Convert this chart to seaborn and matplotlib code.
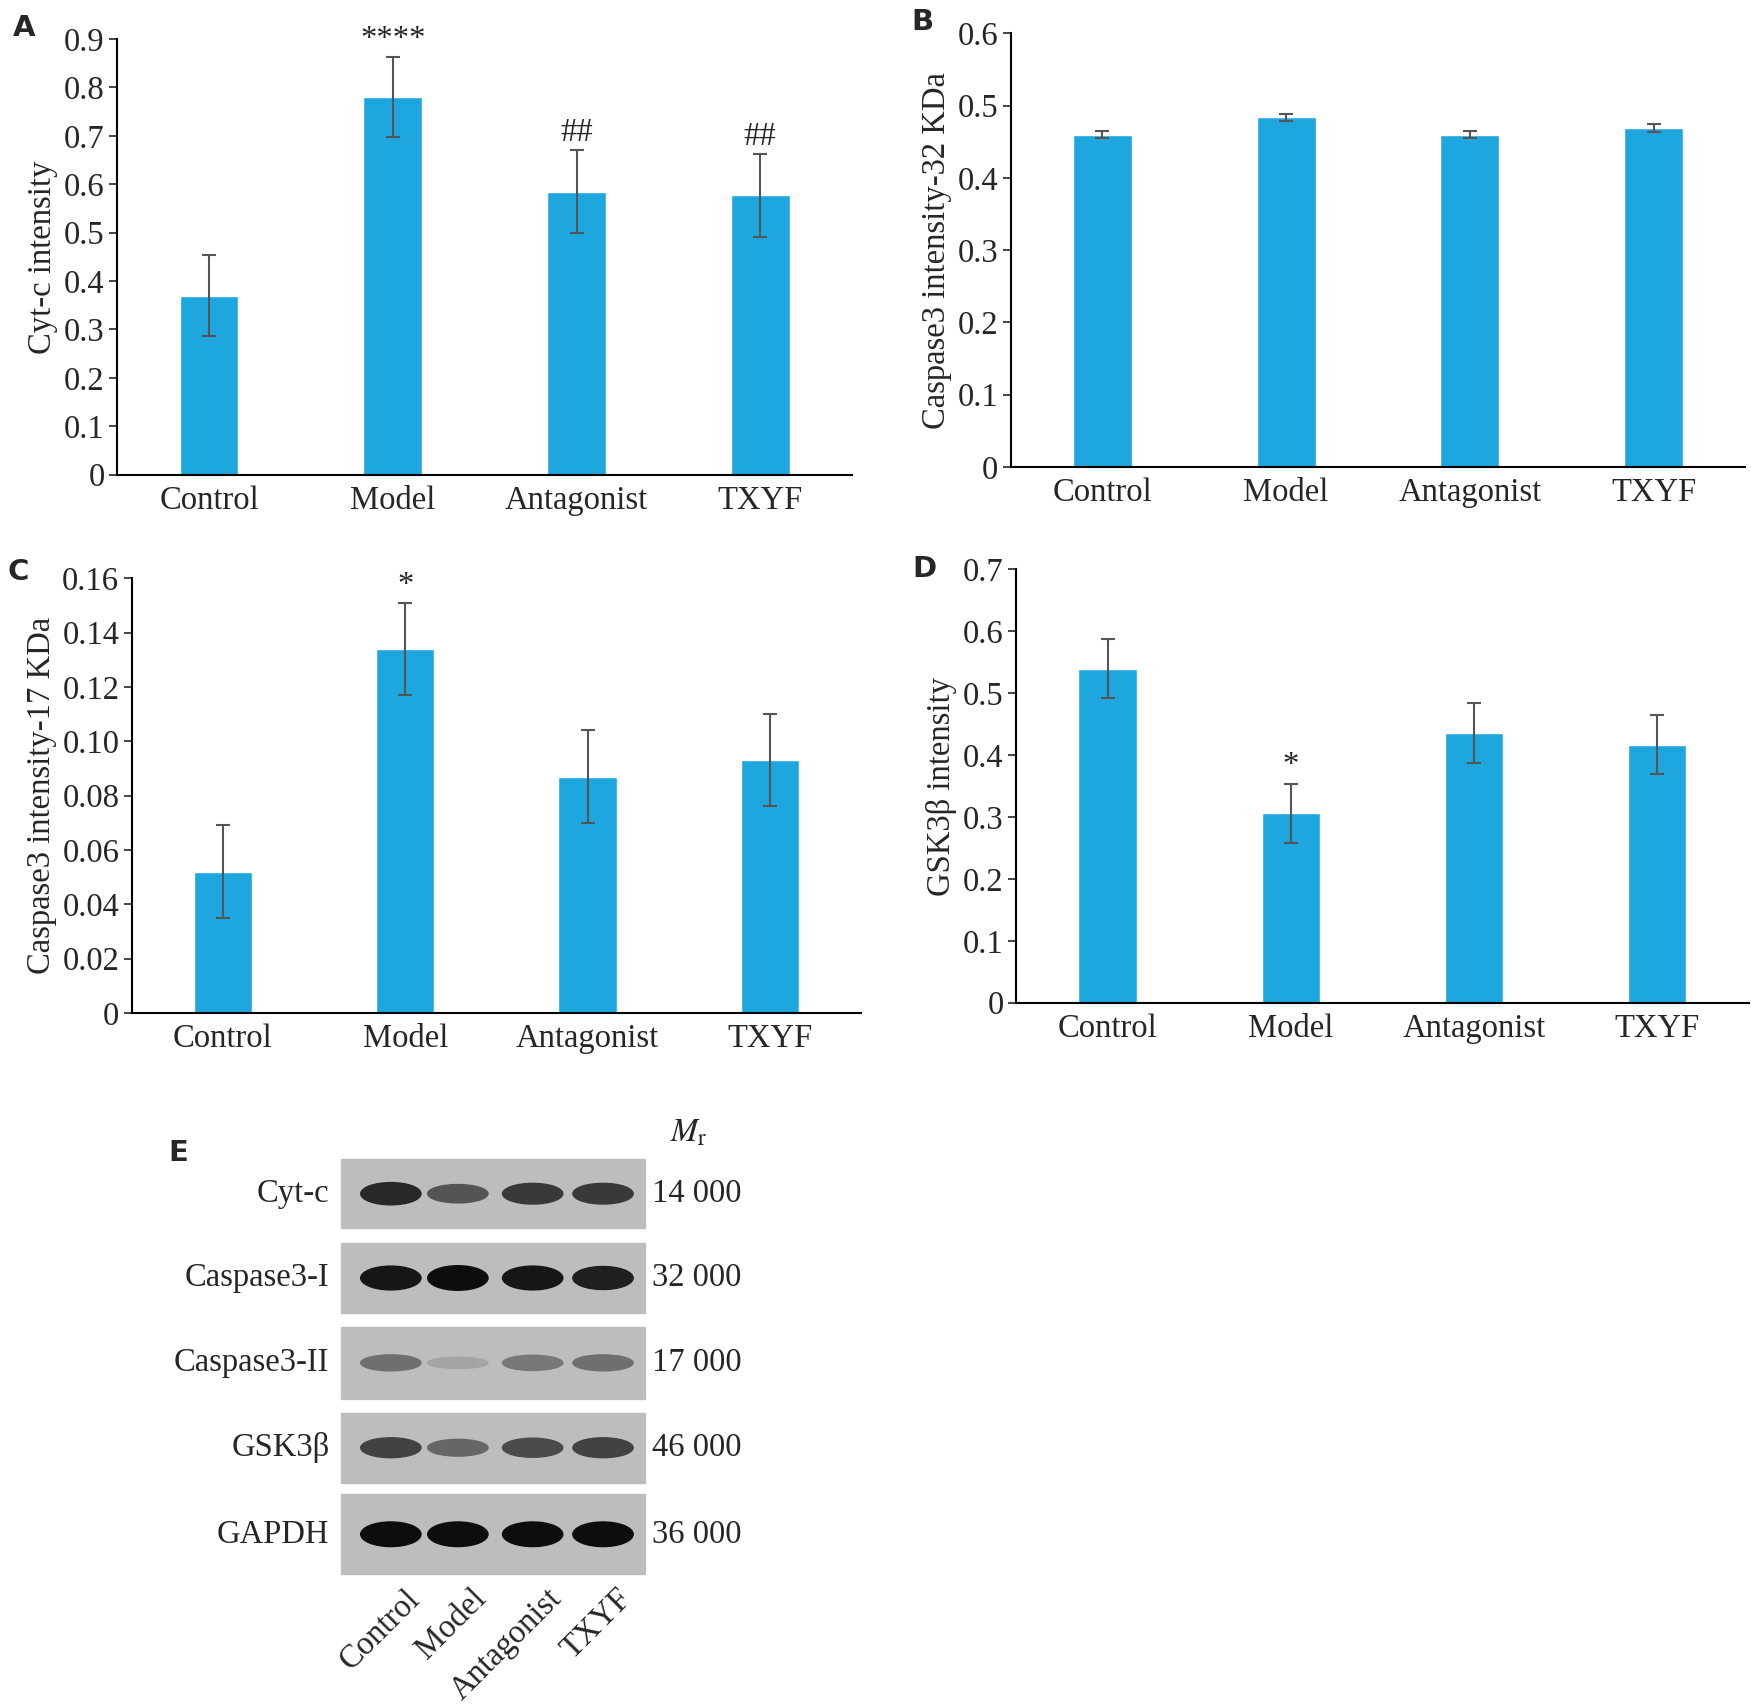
import matplotlib
matplotlib.use("Agg")
import matplotlib.pyplot as plt
import seaborn as sns
import pandas as pd
import numpy as np
from matplotlib.patches import Ellipse, Rectangle

sns.set_theme(style="white")
plt.rcParams['font.family'] = ['Liberation Serif', 'DejaVu Serif']
plt.rcParams['mathtext.fontset'] = 'stix'

groups = ["Control", "Model", "Antagonist", "TXYF"]
cytc = [0.37, 0.78, 0.585, 0.577]
cytc_err = [0.083, 0.083, 0.085, 0.085]
casp32 = [0.46, 0.484, 0.46, 0.469]
casp32_err = [0.005, 0.005, 0.005, 0.005]
casp17 = [0.052, 0.134, 0.087, 0.093]
casp17_err = [0.017, 0.017, 0.017, 0.017]
gsk = [0.54, 0.306, 0.436, 0.417]
gsk_err = [0.048, 0.048, 0.048, 0.048]
sigA = ["", "****", "##", "##"]
sigC = ["", "*", "", ""]
sigD = ["", "*", "", ""]

blot_rows = ["Cyt-c", "Caspase3-I", "Caspase3-II", "GSK3β", "GAPDH"]
blot_mr = ["14 000", "32 000", "17 000", "46 000", "36 000"]
blot_band = [[0.85, 0.6, 0.75, 0.75],
             [0.95, 1.0, 0.95, 0.9],
             [0.45, 0.15, 0.4, 0.45],
             [0.7, 0.5, 0.65, 0.7],
             [1.0, 1.0, 1.0, 1.0]]

color = "#1ea7de"
FS = 23.5
W, H = 1568, 1526
fig = plt.figure(figsize=(17.51, 17.04), dpi=100)

def ax_at(x0, x1, ytop, ybot):
    return fig.add_axes([x0 / W, 1 - ybot / H, (x1 - x0) / W, (ybot - ytop) / H])

def panel(ax, vals, errs, ymax, step, ylabel, fmt, sig, letter, lpos):
    df = pd.DataFrame({"g": groups, "v": vals})
    sns.barplot(data=df, x="g", y="v", color=color, width=0.32, ax=ax, errorbar=None, saturation=1)
    ax.errorbar(range(4), vals, yerr=errs, fmt="none", ecolor="#555555", elinewidth=1.5, capsize=5, capthick=1.5)
    ax.set_ylim(0, ymax)
    ax.set_xlim(-0.5, 3.5)
    ticks = np.arange(0, ymax + step / 2, step)
    ax.set_yticks(ticks)
    ax.set_yticklabels(["0"] + [fmt.format(t) for t in ticks[1:]], fontsize=FS)
    ax.tick_params(axis="y", direction="out", length=6, width=1.2, left=True, pad=3)
    ax.tick_params(axis="x", labelsize=FS, length=0, pad=8)
    ax.set_xlabel("")
    ax.set_ylabel(ylabel, fontsize=FS, labelpad=4)
    for s in ["top", "right"]:
        ax.spines[s].set_visible(False)
    for s in ["left", "bottom"]:
        ax.spines[s].set_color("black")
        ax.spines[s].set_linewidth(1.5)
    for i, s in enumerate(sig):
        if s:
            ax.text(i, vals[i] + errs[i] + ymax * 0.005, s, ha="center", va="bottom", fontsize=FS)
    fig.text(lpos[0] / W, 1 - lpos[1] / H, letter, fontsize=21, fontweight="bold",
             family="DejaVu Sans", ha="center", va="center")

axA = ax_at(105, 763, 35, 425)
panel(axA, cytc, cytc_err, 0.9, 0.1, "Cyt-c intensity", "{:.1f}", sigA, "A", (22, 25))
axB = ax_at(905, 1563, 30, 418)
panel(axB, casp32, casp32_err, 0.6, 0.1, "Caspase3 intensity-32 KDa", "{:.1f}", ["", "", "", ""], "B", (826, 20))
axC = ax_at(118, 771, 518, 907)
panel(axC, casp17, casp17_err, 0.16, 0.02, "Caspase3 intensity-17 KDa", "{:.2f}", sigC, "C", (16, 512))
axD = ax_at(910, 1566, 510, 898)
panel(axD, gsk, gsk_err, 0.7, 0.1, "GSK3β intensity", "{:.1f}", sigD, "D", (828, 510))

# Western blot panel E
axE = fig.add_axes([0, 0, 1, 1])
axE.set_xlim(0, W)
axE.set_ylim(H, 0)
axE.axis("off")
rows_y = [(1038, 1100), (1113, 1176), (1188, 1253), (1265, 1328), (1338, 1410)]
lane_x = [350, 410, 477, 540]
for r, (y0, y1) in enumerate(rows_y):
    axE.add_patch(Rectangle((305, y0), 273, y1 - y0, color="#bdbdbd", zorder=1))
    yc = (y0 + y1) / 2
    for j, xc in enumerate(lane_x):
        inten = blot_band[r][j]
        g = 0.75 - 0.7 * inten
        axE.add_patch(Ellipse((xc, yc), 54, 8 + 14 * inten, color=(g, g, g), zorder=2))
    axE.text(295, yc, blot_rows[r], ha="right", va="center", fontsize=FS)
    axE.text(584, yc, blot_mr[r], ha="left", va="center", fontsize=FS)
axE.text(600, 1015, r"$M_{\mathrm{r}}$", fontsize=FS, ha="left", va="center")
axE.text(160, 1033, "E", fontsize=21, fontweight="bold", family="DejaVu Sans", ha="center", va="center")
for g, xc in zip(groups, lane_x):
    axE.text(xc + 12, 1418, g, rotation=45, ha="right", va="top", fontsize=FS, rotation_mode="anchor")

fig.savefig("out.png", dpi=100)
